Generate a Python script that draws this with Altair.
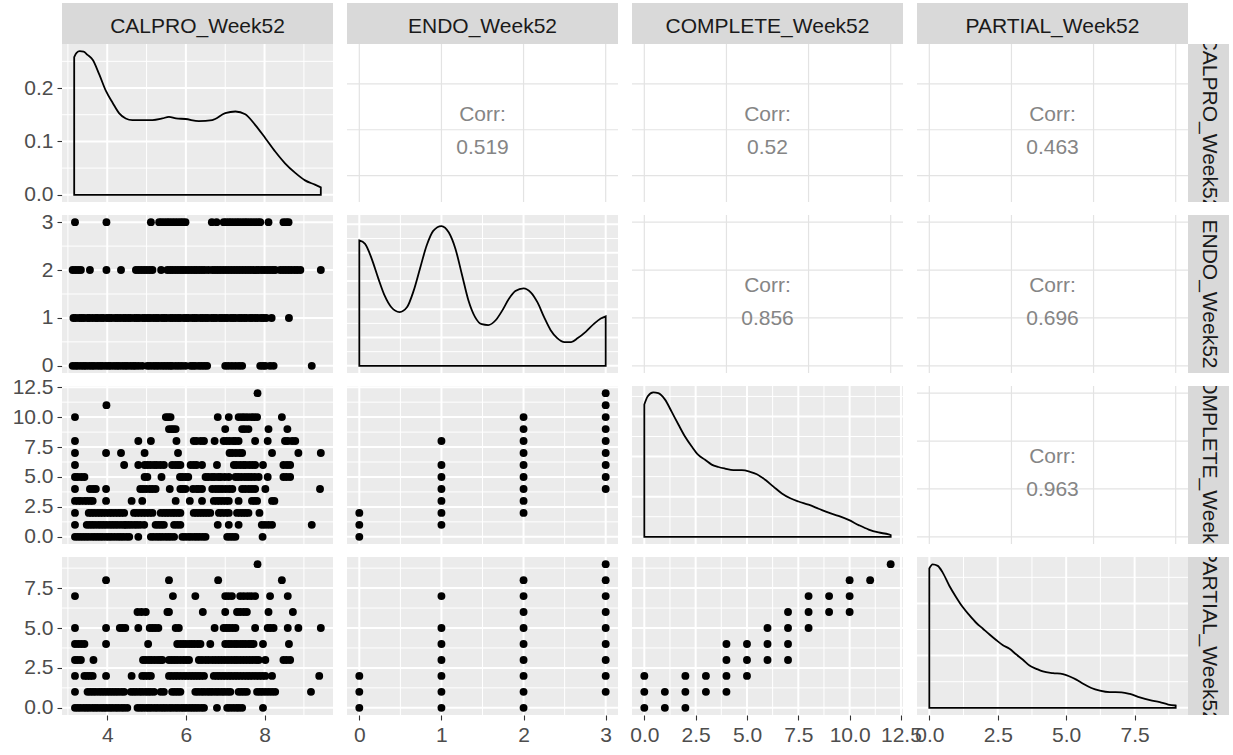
import altair as alt
import pandas as pd

FONT = "Liberation Sans"
W, H = 271, 158          # panel size
GAP_X, GAP_Y = 14, 13    # gaps between panels
STRIP = 41               # strip thickness
PANEL_BG = "#EBEBEB"
UPPER_GRID = "#E3E3E3"

names = ["CALPRO_Week52", "ENDO_Week52", "COMPLETE_Week52", "PARTIAL_Week52"]

# scale limits (data range plus 5% expansion) and breaks for each variable
limits = [[2.85, 9.74], [-0.15, 3.15], [-0.6, 12.6], [-0.45, 9.45]]
major_breaks = [[4, 6, 8], [0, 1, 2, 3], [0, 2.5, 5, 7.5, 10, 12.5], [0, 2.5, 5, 7.5]]
minor_breaks = [[3, 5, 7, 9], [0.5, 1.5, 2.5], [1.25, 3.75, 6.25, 8.75, 11.25], [1.25, 3.75, 6.25, 8.75]]
tick_format = [".0f", ".0f", ".1f", ".1f"]
upper_breaks = [[4, 6, 8], [0, 1, 2, 3], [0, 4, 8, 12], [0, 3, 6, 9]]

# density scales on the diagonal
dens_limits = [[-0.0135, 0.2825], [-0.0254, 0.533], [-0.009, 0.188], [-0.0138, 0.289]]
dens_major = [[0, 0.1, 0.2], [0, 0.1, 0.2, 0.3, 0.4, 0.5], [0, 0.05, 0.1, 0.15], [0, 0.1, 0.2]]
dens_minor = [[0.05, 0.15, 0.25], [0.05, 0.15, 0.25, 0.35, 0.45],
              [0.025, 0.075, 0.125, 0.175], [0.05, 0.15, 0.25]]

# kernel density curves
calpro_dens_x = [3.16, 3.22, 3.30, 3.40, 3.50, 3.63, 3.80, 3.97, 4.14, 4.30, 4.47, 4.64, 4.90, 5.15, 5.40,
                 5.57, 5.75, 5.99, 6.33, 6.67, 7.00, 7.26, 7.51, 7.76, 8.02, 8.27, 8.52, 8.78, 9.03, 9.28, 9.43]
calpro_dens_y = [0.258, 0.266, 0.269, 0.268, 0.262, 0.253, 0.225, 0.194, 0.172, 0.153, 0.143, 0.140, 0.140,
                 0.140, 0.143, 0.146, 0.143, 0.142, 0.138, 0.140, 0.153, 0.156, 0.151, 0.131, 0.106, 0.081,
                 0.059, 0.041, 0.027, 0.019, 0.014]

endo_dens_x = [0.00, 0.07, 0.15, 0.23, 0.31, 0.39, 0.49, 0.58, 0.66, 0.74, 0.82, 0.90, 1.00, 1.09, 1.17,
               1.25, 1.33, 1.41, 1.49, 1.57, 1.66, 1.74, 1.82, 1.90, 2.00, 2.09, 2.17, 2.25, 2.33, 2.41,
               2.50, 2.58, 2.66, 2.76, 2.86, 2.94, 3.00]
endo_dens_y = [0.443, 0.431, 0.379, 0.310, 0.247, 0.207, 0.190, 0.207, 0.264, 0.345, 0.425, 0.477, 0.494,
               0.471, 0.414, 0.322, 0.230, 0.172, 0.147, 0.144, 0.161, 0.195, 0.236, 0.264, 0.274, 0.259,
               0.224, 0.172, 0.126, 0.098, 0.084, 0.084, 0.098, 0.121, 0.149, 0.167, 0.175]

complete_dens_x = [0.00, 0.16, 0.44, 0.68, 1.01, 1.33, 1.66, 1.98, 2.31, 2.63, 2.96, 3.28, 3.61, 3.93, 4.34,
                   4.75, 5.15, 5.48, 5.89, 6.29, 6.70, 7.11, 7.51, 8.00, 8.49, 8.98, 9.46, 9.95, 10.44,
                   10.93, 11.41, 11.90, 12.00]
complete_dens_y = [0.165, 0.175, 0.180, 0.179, 0.171, 0.156, 0.140, 0.125, 0.1125, 0.102, 0.096, 0.090,
                   0.087, 0.085, 0.083, 0.083, 0.081, 0.078, 0.071, 0.0625, 0.054, 0.048, 0.044, 0.040,
                   0.035, 0.030, 0.026, 0.021, 0.0146, 0.009, 0.0054, 0.0029, 0.002]

partial_dens_x = [0.00, 0.12, 0.31, 0.49, 0.73, 0.98, 1.22, 1.47, 1.71, 1.95, 2.20, 2.44, 2.69, 2.93, 3.17,
                  3.42, 3.66, 3.91, 4.15, 4.52, 4.88, 5.13, 5.37, 5.62, 5.92, 6.23, 6.59, 7.02, 7.33, 7.69,
                  8.06, 8.42, 8.73, 9.00]
partial_dens_y = [0.267, 0.275, 0.272, 0.259, 0.234, 0.212, 0.193, 0.177, 0.163, 0.152, 0.1405, 0.130,
                  0.120, 0.113, 0.1025, 0.092, 0.081, 0.0747, 0.0696, 0.0665, 0.0646, 0.060, 0.054, 0.046,
                  0.038, 0.033, 0.030, 0.0297, 0.0266, 0.020, 0.0146, 0.0108, 0.0063, 0.0044]

densities = [(calpro_dens_x, calpro_dens_y), (endo_dens_x, endo_dens_y),
             (complete_dens_x, complete_dens_y), (partial_dens_x, partial_dens_y)]

# CALPRO values observed at each ENDO score
calpro_by_endo = {
    3: [3.18, 3.98, 5.11, 5.32, 5.38, 5.45, 5.52, 5.58, 5.65, 5.72, 5.79, 5.86, 5.92, 5.99, 6.66, 6.78,
        6.96, 7.02, 7.09, 7.15, 7.22, 7.29, 7.35, 7.42, 7.49, 7.55, 7.62, 7.69, 7.76, 7.83, 7.89, 8.10,
        8.48, 8.55, 8.61],
    2: [3.12, 3.19, 3.26, 3.33, 3.56, 3.98, 4.35, 4.73, 4.80, 4.87, 4.94, 5.01, 5.08, 5.15, 5.37, 5.53,
        5.60, 5.66, 5.73, 5.80, 5.87, 5.93, 6.00, 6.07, 6.14, 6.21, 6.27, 6.34, 6.41, 6.48, 6.57, 6.67,
        6.74, 6.81, 6.88, 6.95, 7.02, 7.09, 7.16, 7.23, 7.30, 7.37, 7.44, 7.51, 7.58, 7.65, 7.72, 7.79,
        7.85, 7.93, 8.00, 8.07, 8.14, 8.21, 8.27, 8.40, 8.47, 8.54, 8.61, 8.68, 8.76, 8.83, 8.91, 9.43],
    1: [3.14, 3.20, 3.29, 3.35, 3.41, 3.50, 3.55, 3.63, 3.71, 3.76, 3.84, 3.90, 3.99, 4.05, 4.11, 4.20,
        4.26, 4.33, 4.41, 4.47, 4.54, 4.60, 4.69, 4.75, 4.81, 4.90, 4.96, 5.03, 5.09, 5.17, 5.24, 5.30,
        5.39, 5.45, 5.51, 5.60, 5.66, 5.73, 5.80, 5.86, 5.95, 6.01, 6.07, 6.16, 6.22, 6.28, 6.37, 6.43,
        6.50, 6.56, 6.65, 6.71, 6.77, 6.86, 6.92, 6.99, 7.05, 7.14, 7.20, 7.26, 7.35, 7.41, 7.48, 7.54,
        7.63, 7.69, 7.76, 7.82, 7.91, 7.97, 8.04, 8.18, 8.62],
    0: [3.12, 3.19, 3.25, 3.33, 3.40, 3.46, 3.54, 3.61, 3.67, 3.75, 3.82, 3.88, 3.96, 4.03, 4.09, 4.17,
        4.24, 4.30, 4.38, 4.45, 4.51, 4.59, 4.66, 4.72, 4.80, 4.89, 5.02, 5.09, 5.17, 5.24, 5.31, 5.39,
        5.46, 5.53, 5.60, 5.65, 5.74, 5.82, 5.90, 5.99, 6.12, 6.18, 6.24, 6.33, 6.40, 6.47, 6.54, 7.00,
        7.08, 7.17, 7.26, 7.35, 7.43, 7.89, 7.96, 8.02, 8.14, 8.23, 9.20],
}

# CALPRO values observed at each COMPLETE score
calpro_by_complete = {
    12: [7.82],
    11: [3.98],
    10: [3.18, 5.49, 5.55, 5.61, 6.81, 7.09, 7.34, 7.42, 7.49, 7.57, 7.66, 7.73, 7.81, 8.44],
    9: [5.57, 5.63, 5.68, 5.74, 7.00, 7.43, 7.50, 7.59, 8.10, 8.58],
    8: [3.18, 4.79, 5.11, 5.76, 6.20, 6.27, 6.38, 6.46, 6.73, 6.96, 7.03, 7.11, 7.20, 7.26, 7.34, 7.76,
        8.08, 8.52, 8.59, 8.70, 8.78],
    7: [3.18, 3.97, 4.35, 4.95, 5.80, 7.11, 7.18, 7.27, 7.36, 7.43, 8.19, 8.86, 9.43],
    6: [3.18, 4.43, 4.79, 4.95, 5.02, 5.10, 5.19, 5.26, 5.35, 5.44, 5.65, 5.73, 5.80, 5.86, 6.12, 6.20,
        6.27, 6.41, 6.79, 7.22, 7.29, 7.38, 7.46, 7.52, 7.61, 7.69, 7.76, 7.96, 8.48, 8.57, 8.65],
    5: [3.18, 3.25, 3.34, 3.42, 4.95, 5.02, 5.38, 5.85, 5.91, 5.99, 6.06, 6.50, 6.57, 6.66, 6.73, 6.82,
        6.89, 6.99, 7.09, 7.26, 7.33, 7.41, 7.50, 7.58, 7.66, 7.75, 7.85, 8.08, 8.48, 8.56, 8.65],
    4: [3.18, 3.56, 3.64, 3.71, 3.97, 4.84, 4.91, 4.99, 5.08, 5.15, 5.23, 5.59, 5.86, 5.92, 5.99, 6.18,
        6.27, 6.33, 6.41, 6.67, 6.76, 6.84, 6.92, 7.01, 7.10, 7.18, 7.43, 7.51, 7.60, 7.68, 7.76, 8.02,
        9.41],
    3: [3.18, 3.26, 3.33, 3.42, 3.49, 3.57, 3.63, 3.97, 4.62, 4.89, 5.74, 6.10, 6.41, 6.71, 6.79, 6.86,
        6.94, 7.02, 7.09, 7.34, 7.68, 7.75, 7.81, 8.19, 8.25],
    2: [3.18, 3.53, 3.60, 3.67, 3.75, 3.82, 3.89, 3.97, 4.05, 4.12, 4.20, 4.28, 4.35, 4.43, 4.68, 4.75,
        4.83, 4.91, 4.99, 5.07, 5.15, 5.36, 5.44, 5.51, 5.58, 5.66, 5.72, 5.80, 5.86, 6.20, 6.27, 6.34,
        6.41, 6.48, 6.55, 6.62, 6.84, 6.92, 7.01, 7.09, 7.30, 7.38, 7.45, 7.52, 7.59, 7.87],
    1: [3.18, 3.48, 3.55, 3.62, 3.69, 3.77, 3.84, 3.91, 3.98, 4.06, 4.13, 4.20, 4.27, 4.35, 4.43, 4.47,
        4.54, 4.61, 4.69, 4.76, 4.84, 4.94, 5.23, 5.30, 5.37, 5.44, 5.70, 5.78, 5.86, 6.81, 7.09, 7.34,
        7.93, 8.01, 8.10, 8.19, 9.20],
    0: [3.18, 3.25, 3.32, 3.39, 3.46, 3.53, 3.61, 3.68, 3.75, 3.82, 3.89, 3.97, 4.04, 4.11, 4.19, 4.27,
        4.34, 4.41, 4.49, 4.56, 4.79, 5.11, 5.18, 5.26, 5.33, 5.40, 5.48, 5.55, 5.62, 5.70, 5.91, 5.98,
        6.06, 6.13, 6.21, 6.28, 6.35, 6.43, 6.50, 7.05, 7.12, 7.19, 7.26, 7.95],
}

# CALPRO values observed at each PARTIAL score
calpro_by_partial = {
    9: [7.82],
    8: [3.97, 5.57, 6.82, 8.44],
    7: [3.18, 5.67, 6.24, 7.00, 7.08, 7.17, 7.38, 7.47, 7.57, 7.66, 7.76, 8.14, 8.59],
    6: [4.77, 4.87, 4.98, 5.53, 5.57, 6.43, 7.00, 7.30, 7.38, 7.47, 7.55, 8.10, 8.72],
    5: [3.18, 3.97, 4.32, 4.39, 4.46, 4.79, 5.08, 5.15, 5.22, 5.30, 5.74, 5.82, 6.73, 6.96, 7.03, 7.10,
        7.18, 7.26, 7.76, 8.08, 8.15, 8.23, 8.59, 8.86, 9.43],
    4: [3.18, 3.26, 3.34, 3.42, 3.97, 5.04, 5.78, 5.86, 5.93, 6.00, 6.08, 6.15, 6.22, 6.30, 6.37, 6.62,
        7.00, 7.08, 7.15, 7.23, 7.30, 7.38, 7.45, 7.52, 7.60, 7.66, 7.72, 7.96, 8.62],
    3: [3.18, 3.25, 3.33, 3.65, 4.91, 4.98, 5.06, 5.13, 5.21, 5.29, 5.36, 5.40, 5.57, 5.64, 5.71, 5.78,
        5.86, 5.94, 6.01, 6.08, 6.33, 6.41, 6.50, 6.58, 6.67, 6.75, 6.83, 6.91, 6.99, 7.07, 7.15, 7.23,
        7.30, 7.38, 7.46, 7.54, 7.62, 7.70, 7.78, 7.85, 8.02, 8.48, 8.56, 8.65],
    2: [3.18, 3.42, 3.49, 3.56, 3.63, 3.97, 4.62, 4.89, 4.96, 5.04, 5.11, 5.57, 5.64, 5.72, 5.79, 5.87,
        5.95, 6.02, 6.10, 6.17, 6.24, 6.31, 6.38, 6.46, 6.71, 6.79, 6.86, 6.94, 7.01, 7.09, 7.16, 7.24,
        7.31, 7.39, 7.47, 7.55, 7.62, 7.70, 7.78, 7.86, 7.94, 8.02, 8.19, 9.39],
    1: [3.18, 3.50, 3.57, 3.64, 3.71, 3.79, 3.86, 3.93, 4.00, 4.07, 4.14, 4.21, 4.28, 4.36, 4.43, 4.60,
        4.67, 4.74, 4.82, 4.89, 4.97, 5.04, 5.11, 5.19, 5.36, 5.44, 5.65, 5.72, 5.79, 5.86, 6.24, 6.31,
        6.39, 6.46, 6.54, 6.61, 6.68, 6.76, 6.83, 6.91, 6.98, 7.06, 7.13, 7.34, 7.41, 7.48, 7.55, 7.81,
        7.88, 7.95, 8.03, 8.11, 8.19, 8.27, 9.18],
    0: [3.18, 3.25, 3.32, 3.40, 3.47, 3.54, 3.62, 3.69, 3.76, 3.84, 3.91, 3.98, 4.06, 4.13, 4.21, 4.28,
        4.36, 4.43, 4.51, 4.77, 4.84, 4.91, 4.99, 5.06, 5.13, 5.21, 5.28, 5.36, 5.43, 5.50, 5.58, 5.65,
        5.73, 5.80, 5.88, 5.95, 6.02, 6.10, 6.17, 6.24, 6.31, 6.39, 6.46, 6.79, 7.05, 7.12, 7.20, 7.28,
        7.35, 7.43, 7.96],
}

# score combinations observed for the integer scores
complete_by_endo = {0: [0, 1, 2], 1: [1, 2, 3, 4, 5, 6, 8], 2: [2, 3, 4, 5, 6, 7, 8, 9, 10],
                    3: [4, 5, 6, 7, 8, 9, 10, 11, 12]}
partial_by_endo = {0: [0, 1, 2], 1: [0, 1, 2, 3, 4, 5, 7], 2: [0, 1, 2, 3, 4, 5, 6, 7, 8],
                   3: [1, 2, 3, 4, 5, 6, 7, 8, 9]}
complete_pairs = [0, 0, 0, 1, 1, 2, 2, 2, 3, 3, 4, 4, 4, 4, 5, 5, 5, 6, 6, 6, 7, 7, 7, 7, 8, 8, 8,
                  9, 9, 10, 10, 10, 11, 12]
partial_pairs = [0, 1, 2, 0, 1, 0, 1, 2, 1, 2, 1, 2, 3, 4, 2, 3, 4, 3, 4, 5, 3, 4, 5, 6, 5, 6, 7,
                 6, 7, 6, 7, 8, 8, 9]

correlations = {(0, 1): "0.519", (0, 2): "0.52", (0, 3): "0.463",
                (1, 2): "0.856", (1, 3): "0.696", (2, 3): "0.963"}


def scatter_frame(i, j):
    """Points for the lower panel in row i (y variable) and column j (x variable)."""
    xs, ys = [], []
    if j == 0:
        source = {1: calpro_by_endo, 2: calpro_by_complete, 3: calpro_by_partial}[i]
        for level, values in source.items():
            xs += values
            ys += [level] * len(values)
    elif j == 1:
        source = {2: complete_by_endo, 3: partial_by_endo}[i]
        for level, values in source.items():
            xs += [level] * len(values)
            ys += values
    else:
        xs, ys = complete_pairs, partial_pairs
    return pd.DataFrame({"x": xs, "y": ys})


def make_axis(show, values, fmt):
    if not show:
        return None
    return alt.Axis(values=values, format=fmt, title=None, grid=False, domain=False,
                    tickColor="#333333", tickSize=5, tickWidth=1.1,
                    labelColor="#4D4D4D", labelFont=FONT, labelFontSize=21, labelPadding=4,
                    labelFlush=False, labelOverlap=False, labelBound=False)


def panel(i, j):
    if i == j:
        ydom, ymaj, ymin_, yfmt = dens_limits[i], dens_major[i], dens_minor[i], ".1f"
    else:
        ydom, ymaj, ymin_, yfmt = limits[i], major_breaks[i], minor_breaks[i], tick_format[i]
    xdom, xmaj, xmin_, xfmt = limits[j], major_breaks[j], minor_breaks[j], tick_format[j]

    xs = alt.Scale(domain=xdom, nice=False, zero=False)
    ys = alt.Scale(domain=ydom, nice=False, zero=False)
    xaxis = make_axis(i == 3, xmaj, xfmt)
    yaxis = make_axis(j == 0, ymaj, yfmt)

    def vlines(values, color, width):
        return alt.Chart(pd.DataFrame({"v": values})).mark_rule(color=color, strokeWidth=width).encode(
            x=alt.X("v:Q", scale=xs, axis=xaxis))

    def hlines(values, color, width):
        return alt.Chart(pd.DataFrame({"v": values})).mark_rule(color=color, strokeWidth=width).encode(
            y=alt.Y("v:Q", scale=ys, axis=yaxis))

    if i < j:
        # correlation text on a white panel
        text_df = pd.DataFrame({"x": [(xdom[0] + xdom[1]) / 2], "y": [(ydom[0] + ydom[1]) / 2],
                                "t": ["Corr:\n" + correlations[(i, j)]]})
        label = alt.Chart(text_df).mark_text(
            font=FONT, fontSize=21, color="#858585", lineBreak="\n", lineHeight=33,
            align="center", baseline="middle", dy=-8
        ).encode(x=alt.X("x:Q", scale=xs, axis=xaxis), y=alt.Y("y:Q", scale=ys, axis=yaxis), text="t:N")
        layers = [vlines(upper_breaks[j], UPPER_GRID, 1.2), hlines(upper_breaks[i], UPPER_GRID, 1.2), label]
        bg = "#FFFFFF"
    else:
        layers = [vlines(xmin_, "white", 1), hlines(ymin_, "white", 1),
                  vlines(xmaj, "white", 2), hlines(ymaj, "white", 2)]
        if i == j:
            dx, dy = densities[i]
            dens = alt.Chart(pd.DataFrame({"x": dx, "d": dy})).mark_area(
                interpolate="monotone", fillOpacity=0, stroke="black", strokeWidth=1.8
            ).encode(x=alt.X("x:Q", scale=xs, axis=xaxis), y=alt.Y("d:Q", scale=ys, axis=yaxis),
                     y2=alt.datum(0))
            layers.append(dens)
        else:
            pts = alt.Chart(scatter_frame(i, j)).mark_circle(size=62, color="black", opacity=1).encode(
                x=alt.X("x:Q", scale=xs, axis=xaxis), y=alt.Y("y:Q", scale=ys, axis=yaxis))
            layers.append(pts)
        bg = PANEL_BG
    return alt.layer(*layers).properties(width=W, height=H, view=alt.ViewBackground(fill=bg, stroke=None))


def strip(label, w, h, angle=0, dx=0, dy=0):
    df = pd.DataFrame({"lab": [label]})
    return alt.Chart(df).mark_text(
        font=FONT, fontSize=21, color="#1A1A1A", angle=angle, clip=True, align="center", baseline="middle",
        dx=dx, dy=dy
    ).encode(x=alt.X("lab:N", axis=None), y=alt.Y("lab:N", axis=None), text="lab:N").properties(
        width=w, height=h, view=alt.ViewBackground(fill="#D9D9D9", stroke=None))


def spacer(w, h):
    return alt.Chart(pd.DataFrame({"s": [""]})).mark_text().encode(text="s:N").properties(width=w, height=h)


# 8 x 8 grid: panels and strips interleaved with empty gap cells
cells = []
for k in range(4):
    cells.append(strip(names[k], W, STRIP, dy=3))
    cells.append(spacer(GAP_X, STRIP) if k < 3 else spacer(STRIP, STRIP))
for i in range(4):
    if i > 0:
        for k in range(4):
            cells.append(spacer(W, GAP_Y))
            cells.append(spacer(GAP_X, GAP_Y) if k < 3 else spacer(STRIP, GAP_Y))
    for j in range(4):
        cells.append(panel(i, j))
        cells.append(spacer(GAP_X, H) if j < 3 else strip(names[i], STRIP, H, angle=90))

chart = alt.concat(*cells, columns=8, spacing=0, bounds="flush", align="each").properties(
    padding={"left": 12, "top": 3, "right": 4, "bottom": 4}, background="white"
).configure_view(stroke=None)

chart.save("out.html", embed_options={"renderer": "svg", "actions": False})
